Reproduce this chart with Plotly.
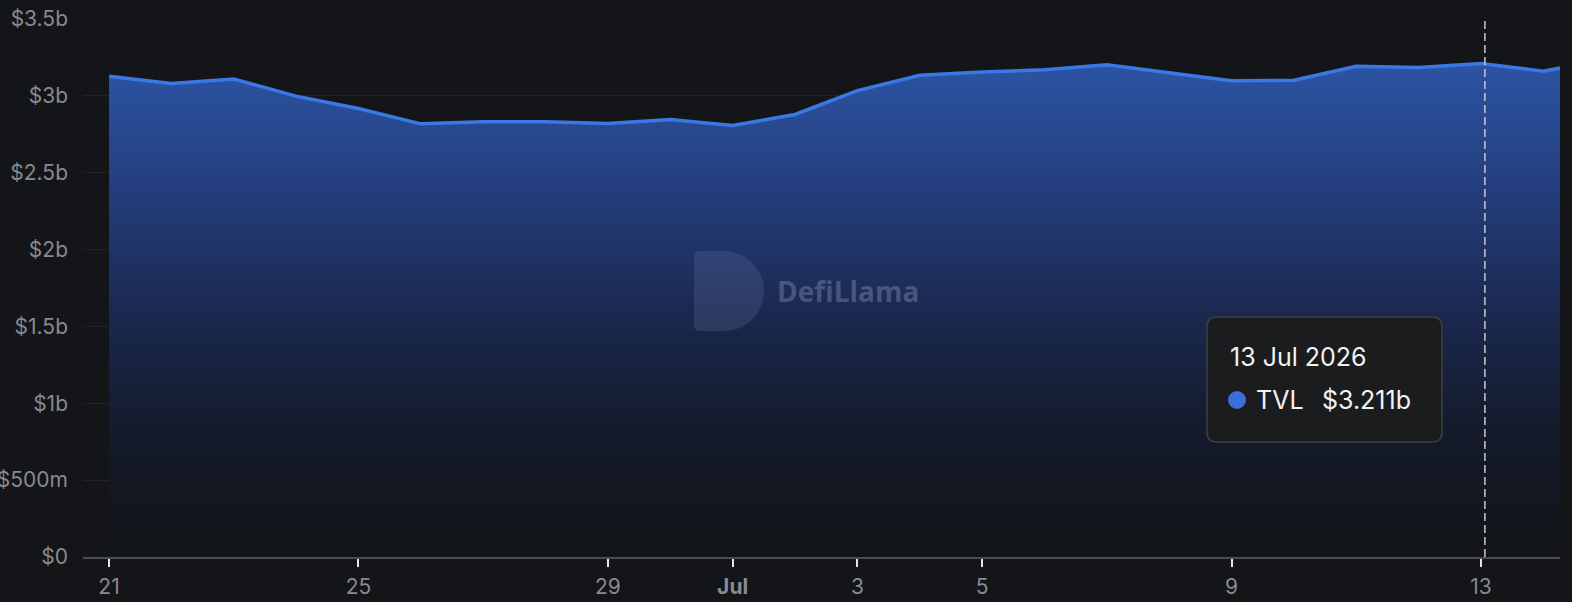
import plotly.graph_objects as go

# ---- data ----
dates = [
    "2026-06-21", "2026-06-22", "2026-06-23", "2026-06-24", "2026-06-25",
    "2026-06-26", "2026-06-27", "2026-06-28", "2026-06-29", "2026-06-30",
    "2026-07-01", "2026-07-02", "2026-07-03", "2026-07-04", "2026-07-05",
    "2026-07-06", "2026-07-07", "2026-07-08", "2026-07-09", "2026-07-10",
    "2026-07-11", "2026-07-12", "2026-07-13", "2026-07-14", "2026-07-14 06:24",
]
tvl_billions = [
    3.127, 3.080, 3.110, 2.998, 2.918,
    2.818, 2.831, 2.831, 2.820, 2.846,
    2.807, 2.879, 3.034, 3.134, 3.155,
    3.170, 3.203, 3.151, 3.099, 3.101,
    3.192, 3.185, 3.211, 3.160, 3.181,
]
tvl = [v * 1e9 for v in tvl_billions]

x_tick_vals = ["2026-06-21", "2026-06-25", "2026-06-29", "2026-07-01",
               "2026-07-03", "2026-07-05", "2026-07-09", "2026-07-13"]
x_tick_text = ["21", "25", "29", "<b>Jul</b>", "3", "5", "9", "13"]
y_tick_vals = [0, 0.5e9, 1e9, 1.5e9, 2e9, 2.5e9, 3e9, 3.5e9]
y_tick_text = ["$0", "$500m", "$1b", "$1.5b", "$2b", "$2.5b", "$3b", "$3.5b"]

hover_index = 22
hover_x = "2026-07-13 01:30"
hover_label = "13 Jul 2026"
series_name = "TVL"
x_range = ["2026-06-20 14:00", "2026-07-14 06:24"]

# ---- layout geometry (pixels) ----
W, H = 1572, 602
ML, MR, MT, MB = 83, 12, 19, 45
PW, PH = W - ML - MR, H - MT - MB


def px(x):
    return (x - ML) / PW


def py(y):
    return (H - MB - y) / PH


def path_from(segs):
    parts = []
    for seg in segs:
        cmd, coords = seg[0], seg[1:]
        pts = [f"{px(coords[i]):.5f},{py(coords[i + 1]):.5f}" for i in range(0, len(coords), 2)]
        parts.append(cmd + " " + " ".join(pts))
    return " ".join(parts) + " Z"


BG = "#131518"
FONT = "Inter, Liberation Sans, Arial, sans-serif"
TICK_FONT = dict(family=FONT, size=21, color="#878a8f")

fig = go.Figure()
fig.add_trace(go.Scatter(
    x=dates, y=tvl, mode="lines", name=series_name,
    line=dict(color="#3a78e6", width=3.5),
    fill="tozeroy",
    fillgradient=dict(
        type="vertical",
        start=0, stop=3.2e9,
        colorscale=[
            [0.0, "rgb(18,20,24)"],
            [0.25, "rgb(20,26,42)"],
            [0.5, "rgb(27,41,80)"],
            [0.75, "rgb(36,62,125)"],
            [1.0, "rgb(44,84,163)"],
        ],
    ),
    hoverinfo="skip",
))

# hover crosshair
fig.add_shape(type="line", x0=hover_x, x1=hover_x,
              xref="x", y0=0, y1=1, yref="paper",
              line=dict(color="#c9c9c9", width=1.5, dash="8px,4px"))

# watermark logo (D shape)
d_path = [("M", 700, 251), ("L", 724, 251),
          ("C", 746, 251, 764, 269, 764, 291),
          ("C", 764, 313, 746, 331, 724, 331),
          ("L", 700, 331), ("Q", 694, 331, 694, 325),
          ("L", 694, 257), ("Q", 694, 251, 700, 251)]
fig.add_shape(type="path", path=path_from(d_path), xref="paper", yref="paper",
              fillcolor="rgba(120,135,180,0.2)", line=dict(width=0), layer="above")
fig.add_annotation(x=px(775), y=py(291), xref="paper", yref="paper",
                   text="<b>DefiLlama</b>", showarrow=False, xanchor="left", yanchor="middle",
                   font=dict(family="Open Sans, sans-serif", size=28, color="rgba(115,128,165,0.5)"))

# tooltip box (rounded rectangle)
bx0, bx1, by0, by1, r = 1207, 1442, 317, 442, 10
box = [("M", bx0 + r, by0), ("L", bx1 - r, by0), ("Q", bx1, by0, bx1, by0 + r),
       ("L", bx1, by1 - r), ("Q", bx1, by1, bx1 - r, by1),
       ("L", bx0 + r, by1), ("Q", bx0, by1, bx0, by1 - r),
       ("L", bx0, by0 + r), ("Q", bx0, by0, bx0 + r, by0)]
fig.add_shape(type="path", path=path_from(box), xref="paper", yref="paper",
              fillcolor="#1b1c1e", line=dict(color="#3d3f44", width=1.5), layer="above")

TT_FONT = dict(family=FONT, size=25, color="#f2f2f2")
fig.add_annotation(x=px(1228), y=py(357), xref="paper", yref="paper", text=hover_label,
                   showarrow=False, xanchor="left", yanchor="middle", font=TT_FONT)
fig.add_shape(type="circle", xref="paper", yref="paper",
              xsizemode="pixel", ysizemode="pixel",
              xanchor=px(1237), yanchor=py(400), x0=-9, x1=9, y0=-9, y1=9,
              fillcolor="#3d6fd9", line=dict(width=0), layer="above")
fig.add_annotation(x=px(1254), y=py(400), xref="paper", yref="paper", text=series_name,
                   showarrow=False, xanchor="left", yanchor="middle", font=TT_FONT)
fig.add_annotation(x=px(1320), y=py(400), xref="paper", yref="paper",
                   text=f"${tvl[hover_index] / 1e9:.3f}b",
                   showarrow=False, xanchor="left", yanchor="middle", font=TT_FONT)

fig.update_layout(
    width=W, height=H,
    margin=dict(l=ML, r=MR, t=MT, b=MB, pad=0, autoexpand=False),
    paper_bgcolor=BG, plot_bgcolor=BG,
    showlegend=False,
    xaxis=dict(
        type="date",
        range=x_range, automargin=False,
        tickmode="array", tickvals=x_tick_vals, ticktext=x_tick_text,
        showgrid=False, zeroline=False,
        showline=True, linecolor="#4a4e57", linewidth=2,
        ticks="outside", ticklen=8, tickwidth=2, tickcolor="#e6e6e6",
        tickfont=TICK_FONT, ticklabelstandoff=2,
    ),
    yaxis=dict(
        range=[0, 3.5e9], automargin=False,
        tickmode="array", tickvals=y_tick_vals, ticktext=y_tick_text,
        showgrid=True, gridcolor="#24221f", gridwidth=1,
        zeroline=False, showline=False, ticks="",
        tickfont=TICK_FONT, ticklabelstandoff=14,
    ),
)

fig.write_html(
    "out.html",
    config={"displayModeBar": False},
    post_script="document.body.style.margin='0';document.body.style.background='#131518';",
)
